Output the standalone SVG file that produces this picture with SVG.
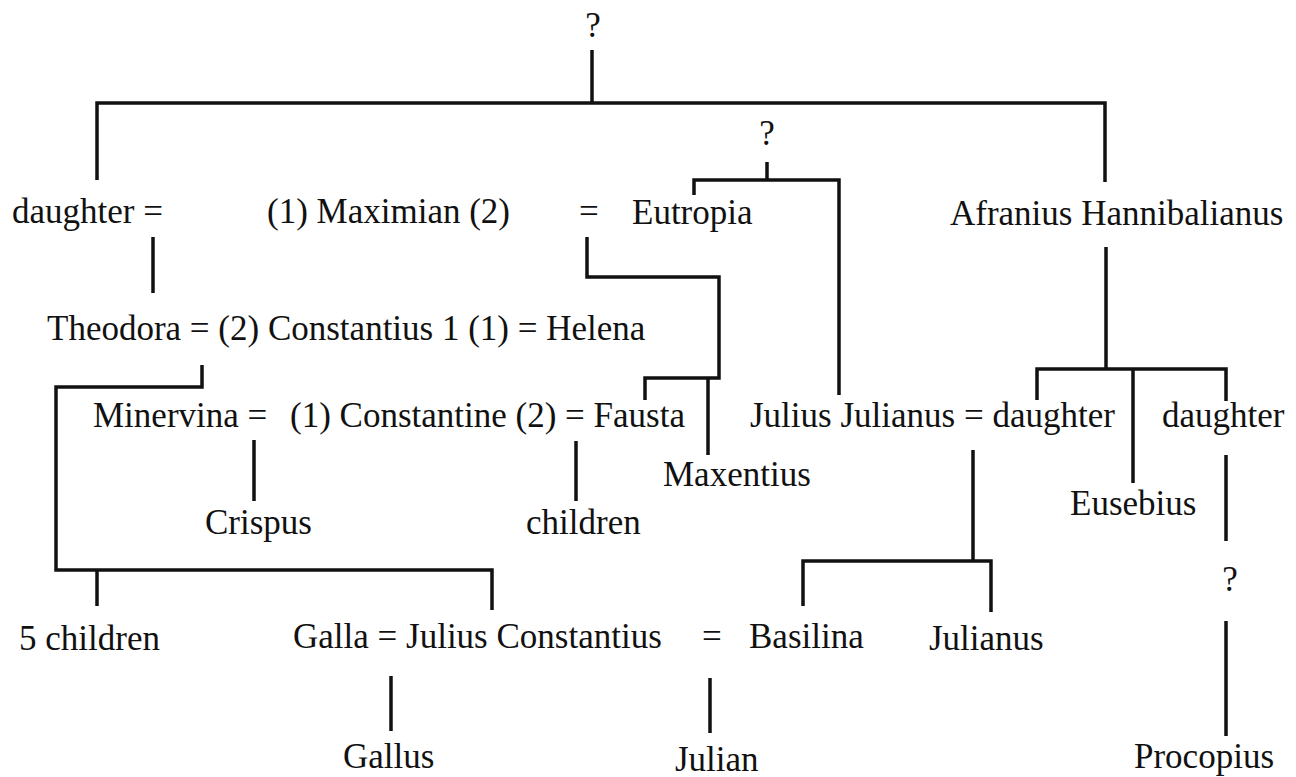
<svg xmlns="http://www.w3.org/2000/svg" width="1296" height="777" viewBox="0 0 1296 777">
<style>
text{font-family:"Liberation Serif","Times New Roman",serif;font-size:35px;fill:#111}
.c{text-anchor:middle}
.ln{fill:none;stroke:#111;stroke-width:3.5;stroke-linejoin:miter;stroke-linecap:butt}
</style>
<rect width="1296" height="777" fill="#fff"/>
<g id="connectors">
<path class="ln" d="M592,50 V103"/>
<path class="ln" d="M97,180 V103 H1105 V182"/>
<path class="ln" d="M153,237 V293"/>
<path class="ln" d="M767,162 V180"/>
<path class="ln" d="M694,195 V180 H839 V395"/>
<path class="ln" d="M587,237 V277 H719 V378 H645 V400"/>
<path class="ln" d="M708,378 V455"/>
<path class="ln" d="M202,365 V387 H56 V570 H492 V610"/>
<path class="ln" d="M97,570 V606"/>
<path class="ln" d="M254,440 V501"/>
<path class="ln" d="M576,441 V501"/>
<path class="ln" d="M1106,247 V369"/>
<path class="ln" d="M1037,400 V369 H1226 V401"/>
<path class="ln" d="M1133,369 V483"/>
<path class="ln" d="M973,450 V561"/>
<path class="ln" d="M803,606 V561 H991 V612"/>
<path class="ln" d="M391,676 V731"/>
<path class="ln" d="M710,678 V733"/>
<path class="ln" d="M1226,455 V541"/>
<path class="ln" d="M1226,621 V736"/>
</g>
<g id="n-unknown-top"><text class="c" x="593" y="37">?</text></g>
<g id="n-daughter1"><text x="12" y="223">daughter =</text></g>
<g id="n-maximian"><text x="267" y="223">(1) Maximian (2)</text></g>
<g id="n-eq-eutropia"><text x="579" y="223">=</text></g>
<g id="n-eutropia"><text x="632" y="224">Eutropia</text></g>
<g id="n-afranius"><text x="950" y="225">Afranius Hannibalianus</text></g>
<g id="n-unknown-eutropia"><text class="c" x="767" y="145">?</text></g>
<g id="n-constantius"><text x="47" y="340">Theodora = (2) Constantius 1 (1) = Helena</text></g>
<g id="n-minervina"><text x="93" y="427">Minervina =</text></g>
<g id="n-constantine"><text x="290" y="427">(1) Constantine (2) = Fausta</text></g>
<g id="n-julius-julianus"><text x="750" y="427">Julius Julianus = daughter</text></g>
<g id="n-daughter2"><text x="1162" y="427">daughter</text></g>
<g id="n-maxentius"><text x="663" y="486">Maxentius</text></g>
<g id="n-crispus"><text x="205" y="534">Crispus</text></g>
<g id="n-children"><text x="526" y="534">children</text></g>
<g id="n-eusebius"><text x="1070" y="515">Eusebius</text></g>
<g id="n-unknown-procopius"><text class="c" x="1230" y="591">?</text></g>
<g id="n-5children"><text x="19" y="650">5 children</text></g>
<g id="n-julius-constantius"><text x="293" y="648">Galla = Julius Constantius</text></g>
<g id="n-eq-basilina"><text x="702" y="648">=</text></g>
<g id="n-basilina"><text x="749" y="648">Basilina</text></g>
<g id="n-julianus"><text x="929" y="650">Julianus</text></g>
<g id="n-gallus"><text x="343" y="768">Gallus</text></g>
<g id="n-julian"><text x="675" y="771">Julian</text></g>
<g id="n-procopius"><text x="1134" y="768">Procopius</text></g>
</svg>
